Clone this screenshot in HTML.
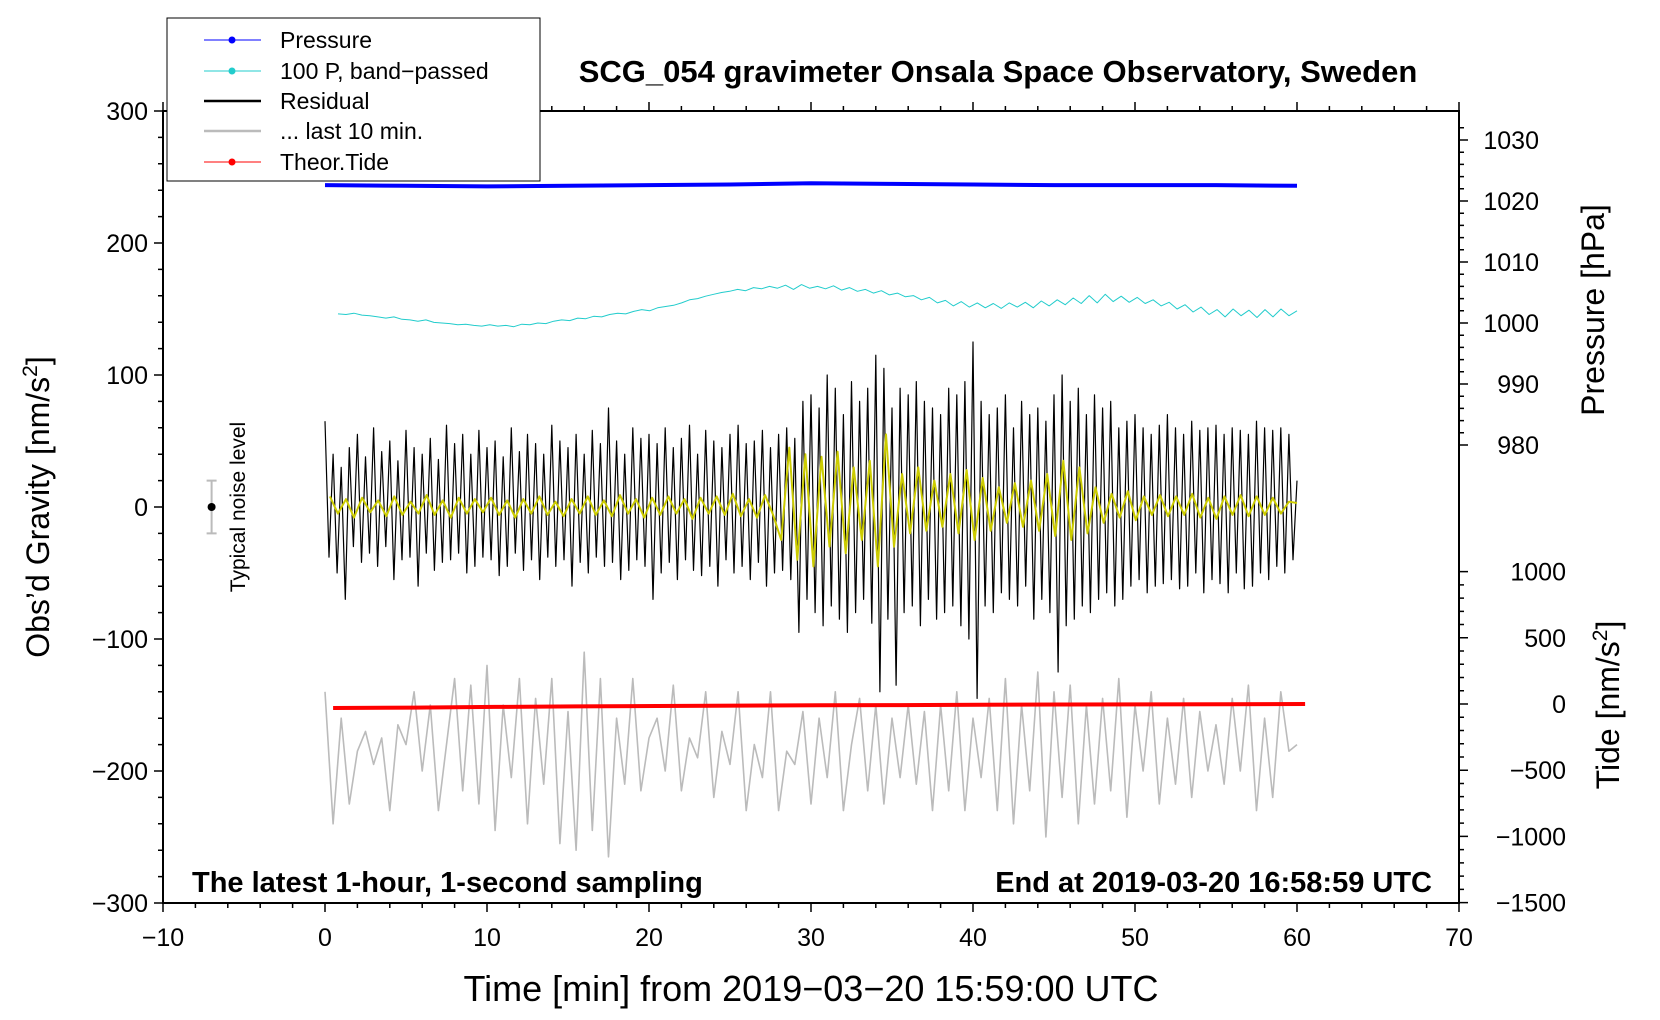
<!DOCTYPE html>
<html><head><meta charset="utf-8"><style>
html,body{margin:0;padding:0;background:#fff;}
svg{display:block;font-family:"Liberation Sans",sans-serif;}
</style></head><body>
<svg id="chart" width="1660" height="1020" viewBox="0 0 1660 1020" xmlns="http://www.w3.org/2000/svg">
<rect x="0" y="0" width="1660" height="1020" fill="#fff"/>
<g id="marks"></g>
<g id="axes"></g>
<text x="998" y="82" text-anchor="middle" font-size="31" font-weight="bold">SCG_054 gravimeter Onsala Space Observatory, Sweden</text>
<text x="811" y="1001" text-anchor="middle" font-size="36">Time [min] from 2019−03−20 15:59:00 UTC</text>
<text transform="translate(49,507) rotate(-90)" text-anchor="middle" font-size="32">Obs’d Gravity [nm/s<tspan font-size="21" dy="-12">2</tspan><tspan dy="12">]</tspan></text>
<text transform="translate(1604,310) rotate(-90)" text-anchor="middle" font-size="32">Pressure [hPa]</text>
<text transform="translate(1619,705) rotate(-90)" text-anchor="middle" font-size="32">Tide [nm/s<tspan font-size="21" dy="-12">2</tspan><tspan dy="12">]</tspan></text>
<text x="192" y="892" font-size="29" font-weight="bold">The latest 1-hour, 1-second sampling</text>
<text x="1432" y="892" text-anchor="end" font-size="29" font-weight="bold">End at 2019-03-20 16:58:59 UTC</text>
<text transform="translate(245,507) rotate(-90)" text-anchor="middle" font-size="21">Typical noise level</text>
<g>
<rect x="167" y="18" width="373" height="163" fill="#fff" stroke="#000" stroke-width="1"/>
<line x1="204" y1="40" x2="261" y2="40" stroke="#00f" stroke-width="1"/><circle cx="232" cy="40" r="3.5" fill="#00f"/>
<text x="280" y="48" font-size="23">Pressure</text>
<line x1="204" y1="71" x2="261" y2="71" stroke="#2cc" stroke-width="1"/><circle cx="232" cy="71" r="3.5" fill="#2cc"/>
<text x="280" y="79" font-size="23">100 P, band−passed</text>
<line x1="204" y1="101" x2="261" y2="101" stroke="#000" stroke-width="2.5"/>
<text x="280" y="109" font-size="23">Residual</text>
<line x1="204" y1="131" x2="261" y2="131" stroke="#bbb" stroke-width="2.5"/>
<text x="280" y="139" font-size="23">... last 10 min.</text>
<line x1="204" y1="162" x2="261" y2="162" stroke="#f00" stroke-width="1"/><circle cx="232" cy="162" r="3.5" fill="#f00"/>
<text x="280" y="170" font-size="23">Theor.Tide</text>
</g>
</svg>
<script>
const residual=[65,-38,40,-50,30,-70,45,-30,55,-42,38,-35,60,-45,42,-30,50,-55,35,-40,58,-38,45,-60,40,-35,52,-48,36,-42,62,-40,48,-35,55,-50,40,-45,58,-38,
45,-40,50,-52,38,-45,60,-35,42,-48,55,-40,48,-55,40,-38,62,-45,50,-40,45,-60,55,-42,40,-50,58,-38,48,-45,75,-42,50,-55,40,-48,60,-40,52,-45,
55,-70,48,-50,60,-42,45,-55,52,-40,62,-48,40,-52,58,-45,50,-60,45,-40,55,-50,62,-45,48,-55,50,-42,58,-60,45,-50,55,-48,60,-55,52,-95,80,-70,
85,-80,75,-90,100,-75,90,-85,70,-95,95,-80,80,-70,90,-88,115,-140,105,-85,75,-135,90,-80,85,-75,95,-90,80,-70,75,-85,70,-80,90,-75,85,-90,95,-100,
125,-145,80,-75,70,-80,75,-65,85,-70,60,-75,80,-60,70,-85,75,-70,65,-80,85,-125,100,-90,80,-85,90,-75,70,-80,85,-70,75,-65,80,-75,60,-70,65,-60,
70,-55,60,-65,55,-60,62,-58,70,-55,60,-62,55,-60,65,-50,58,-65,60,-55,62,-58,55,-65,60,-50,58,-62,55,-60,65,-50,60,-55,58,-45,60,-50,55,-40,20];
const filtered=[8,-5,6,-8,7,-4,5,-7,8,-6,4,-5,9,-6,5,-8,7,-5,6,-4,
7,-6,5,-8,6,-5,8,-6,4,-7,6,-5,8,-6,5,-7,9,-5,6,-8,
7,-6,8,-5,6,-9,7,-5,8,-6,10,-7,6,-8,9,-6,-25,45,-40,40,
-45,38,-30,42,-35,30,-25,35,-45,55,-30,25,-20,30,-18,20,-15,25,-20,28,
-25,22,-18,15,-12,18,-15,20,-18,25,-22,35,-25,30,-20,15,-12,10,-8,12,
-10,8,-6,9,-7,8,-6,10,-8,7,-9,8,-6,9,-7,8,-6,7,-5,4,3];
const last10=[-140,-240,-160,-225,-185,-170,-195,-175,-230,-165,-180,-140,-200,-150,-230,-180,-130,-215,-135,-225,
-120,-245,-150,-205,-130,-240,-145,-210,-130,-255,-155,-260,-110,-245,-130,-265,-160,-210,-130,-215,
-175,-160,-200,-135,-215,-175,-190,-140,-220,-170,-195,-140,-230,-180,-205,-140,-230,-185,-195,-155,
-225,-160,-205,-140,-230,-180,-145,-215,-150,-225,-160,-205,-150,-210,-155,-230,-150,-215,-140,-230,
-160,-205,-145,-230,-130,-240,-150,-215,-125,-250,-140,-220,-135,-240,-150,-225,-145,-215,-130,-235,
-150,-200,-140,-225,-160,-210,-145,-220,-155,-200,-165,-210,-145,-200,-135,-230,-160,-220,-140,-185,-180];
const bandPassed=[1001.5,1001.4,1001.6,1001.3,1001.2,1001.0,1000.8,1001.0,1000.6,1000.5,1000.3,1000.5,1000.1,1000.0,999.9,999.7,999.8,999.6,999.5,999.7,
999.5,999.6,999.4,999.8,999.7,1000.0,999.9,1000.3,1000.5,1000.4,1000.8,1000.7,1001.1,1001.0,1001.4,1001.6,1001.5,1001.9,1002.2,1002.0,
1002.5,1002.7,1002.9,1003.3,1003.8,1004.0,1004.4,1004.7,1005.0,1005.2,1005.5,1005.3,1005.8,1005.6,1006.0,1005.7,1006.2,1005.5,1006.3,1005.7,
1006.0,1005.6,1006.1,1005.4,1005.8,1005.2,1005.5,1004.9,1005.3,1004.6,1004.9,1004.3,1004.5,1003.8,1004.2,1003.3,1003.7,1002.8,1003.5,1002.6,
1003.3,1002.5,1003.2,1002.4,1003.3,1002.6,1003.4,1002.5,1003.6,1002.8,1003.8,1003.0,1004.1,1003.2,1004.5,1003.3,1004.7,1003.5,1004.4,1003.4,
1004.2,1003.2,1003.8,1002.8,1003.4,1002.3,1003.0,1001.8,1002.6,1001.4,1002.2,1001.0,1002.3,1001.2,1002.1,1000.9,1002.2,1001.0,1002.3,1001.2,1002.0];
const pressure=[1022.6,1022.5,1022.4,1022.5,1022.6,1022.7,1022.9,1022.8,1022.7,1022.6,1022.6,1022.6,1022.5];
const tide=[-30,-27,-22,-18,-15,-12,-10,-8,-6,-4,-3,-2,0];
const xTicks=[-10,0,10,20,30,40,50,60,70];
const gTicks=[-300,-200,-100,0,100,200,300];
const pTicks=[980,990,1000,1010,1020,1030];
const tTicks=[-1500,-1000,-500,0,500,1000];

const X0=163,X1=1459,Y0=111,Y1=903;
const xs=v=>X0+(v+10)/80*(X1-X0);
const ys=v=>Y1-(v+300)/600*(Y1-Y0);
const ps=v=>201-(v-1020)*6.1;
const ts=v=>704-v*0.1324;
const NS='http://www.w3.org/2000/svg';
const marks=document.getElementById('marks');
const axes=document.getElementById('axes');
function mk(tag,parent){const e=document.createElementNS(NS,tag);parent.appendChild(e);return e;}
function series(arr,x0,x1,yf,color,w,name){
  const step=(x1-x0)/(arr.length-1);
  const d=arr.map((v,i)=>(i?'L':'M')+xs(x0+i*step).toFixed(1)+','+yf(v).toFixed(1)).join('');
  const p=mk('path',marks);
  p.setAttribute('d',d);p.setAttribute('fill','none');p.setAttribute('stroke',color);
  p.setAttribute('stroke-width',w);p.setAttribute('stroke-linejoin','round');
  
  
}
series(last10,0,60,ys,'#bbb',1.6,'last-10-min-line');
series(residual,0,60,ys,'#000',1.2,'residual-line');
series(filtered,0.3,60,ys,'#cc0',2,'filtered-residual-line');
series(bandPassed,0.8,60,ps,'#2cc',1,'band-passed-pressure-line');
series(pressure,0,60,ps,'#00f',4,'pressure-line');
series(tide,0.5,60.5,ts,'#f00',4,'theoretical-tide-line');

const nb=mk('g',marks);


const nl=mk('path',nb);
nl.setAttribute('d',`M${xs(-7)},${ys(20)}V${ys(-20)}M${xs(-7)-5},${ys(20)}h10M${xs(-7)-5},${ys(-20)}h10`);
nl.setAttribute('stroke','#bbb');nl.setAttribute('stroke-width','2');nl.setAttribute('fill','none');
const nc=mk('circle',nb);nc.setAttribute('cx',xs(-7));nc.setAttribute('cy',ys(0));nc.setAttribute('r',4);

const fr=mk('rect',axes);
fr.setAttribute('x',X0);fr.setAttribute('y',Y0);fr.setAttribute('width',X1-X0);fr.setAttribute('height',Y1-Y0);
fr.setAttribute('fill','none');fr.setAttribute('stroke','#000');fr.setAttribute('stroke-width','2');


let d='';
for(let v=-10;v<=70;v+=2){const L=(v%10===0)?9:5;d+=`M${xs(v)},${Y1}v${L}M${xs(v)},${Y0}v${-L}`;}
for(let v=-300;v<=300;v+=20){const L=(v%100===0)?9:5;d+=`M${X0},${ys(v)}h${-L}`;}
for(let v=980;v<=1032;v+=2){const L=(v%10===0)?9:5;d+=`M${X1},${ps(v)}h${L}`;}
for(let v=-1500;v<=1000;v+=100){const L=(v%500===0)?9:5;d+=`M${X1},${ts(v)}h${L}`;}
const tk=mk('path',axes);tk.setAttribute('d',d);tk.setAttribute('stroke','#000');tk.setAttribute('stroke-width','1.5');


function label(x,y,txt,anchor,name){const t=mk('text',axes);t.setAttribute('x',x);t.setAttribute('y',y);
  t.setAttribute('text-anchor',anchor);t.setAttribute('font-size','25');t.textContent=txt;
  
  }
const fmt=v=>String(v).replace('-','−');
xTicks.forEach(v=>label(xs(v),946,fmt(v),'middle','x-tick-label'));
gTicks.forEach(v=>label(X0-15,ys(v)+9,fmt(v),'end','gravity-tick-label'));
pTicks.forEach(v=>label(X1+80,ps(v)+9,fmt(v),'end','pressure-tick-label'));
tTicks.forEach(v=>label(X1+107,ts(v)+9,fmt(v),'end','tide-tick-label'));
</script>
</body></html>
